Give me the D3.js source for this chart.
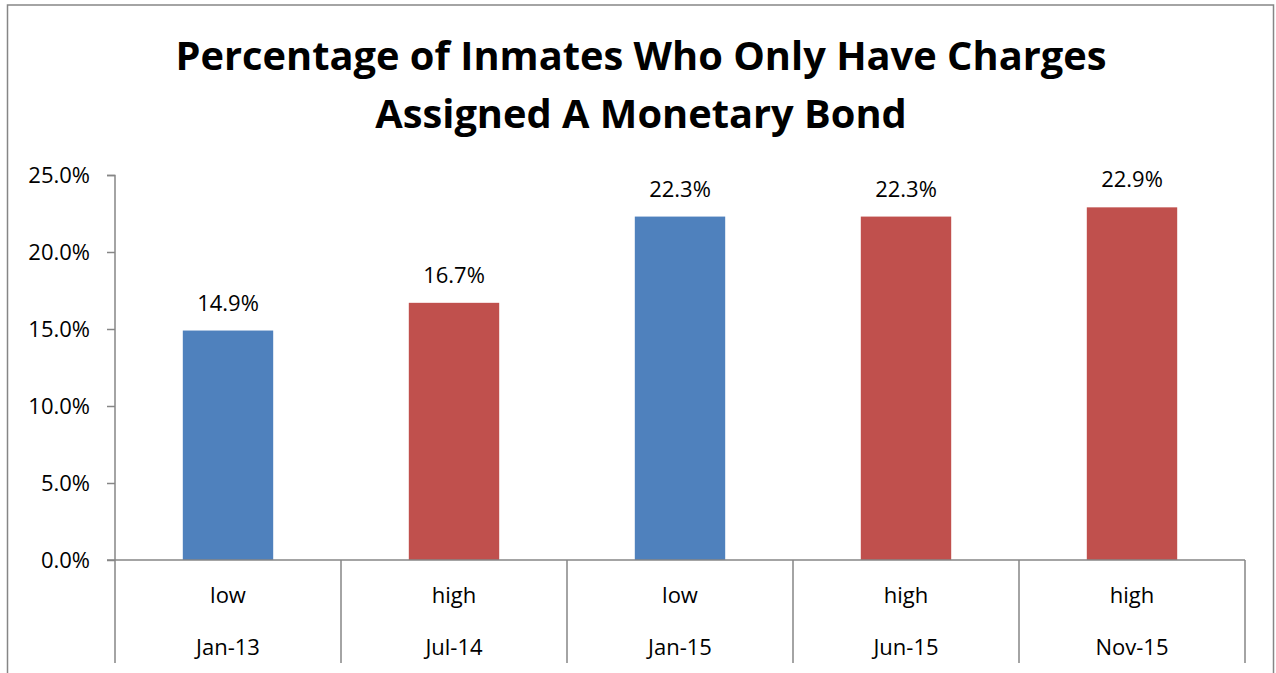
<!DOCTYPE html>
<html>
<head>
<meta charset="utf-8">
<script src="https://cdn.jsdelivr.net/npm/d3@7"></script>
<style>
  body { margin: 0; background: #fff; }
  svg { display: block; font-family: "Open Sans", sans-serif; }
</style>
</head>
<body>
<svg id="chart"></svg>
<script>
// chart data
const dates = ["Jan-13", "Jul-14", "Jan-15", "Jun-15", "Nov-15"];
const levels = ["low", "high", "low", "high", "high"];
const values = [14.9, 16.7, 22.3, 22.3, 22.9];
const yTicks = [0, 5, 10, 15, 20, 25];
const titleLines = ["Percentage of Inmates Who Only Have Charges", "Assigned A Monetary Bond"];

const width = 1276, height = 673;
const margin = {top: 175, right: 31, bottom: 113, left: 115};
const innerW = width - margin.left - margin.right;
const innerH = height - margin.top - margin.bottom;

const colors = {low: "#4F81BD", high: "#C0504D"};
const gray = "#868686";

const svg = d3.select("#chart")
    .attr("width", width)
    .attr("height", height);

// outer frame
svg.append("rect")
    .attr("x", 7.5).attr("y", 5)
    .attr("width", 1266).attr("height", 700)
    .attr("fill", "none")
    .attr("stroke", gray)
    .attr("stroke-width", 1.5);

// title
svg.append("g")
    .selectAll("text")
    .data(titleLines)
    .join("text")
    .attr("x", 641)
    .attr("y", (d, i) => 70 + i * 58)
    .attr("text-anchor", "middle")
    .attr("font-size", "39.8px")
    .attr("font-weight", "bold")
    .attr("fill", "#000")
    .text(d => d);

const g = svg.append("g")
    .attr("transform", `translate(${margin.left}, ${margin.top})`);

const idx = d3.range(dates.length);

const x = d3.scaleBand()
    .domain(idx)
    .range([0, innerW])
    .paddingInner(0.6)
    .paddingOuter(0.3);

const step = innerW / dates.length;

const y = d3.scaleLinear()
    .domain([0, 25])
    .range([innerH, 0]);

// y axis
const yAxis = g.append("g")
    .call(d3.axisLeft(y)
        .tickValues(yTicks)
        .tickSize(8)
        .tickPadding(17)
        .tickFormat(d => d.toFixed(1) + "%"));
yAxis.selectAll("path, line").attr("stroke", gray).attr("stroke-width", 1.5);
yAxis.select(".domain").attr("d", `M-8,0.5H0V${innerH}`);
yAxis.selectAll("text")
    .attr("font-size", "22px")
    .attr("font-family", "Open Sans, sans-serif")
    .attr("fill", "#000");

// bars
g.append("g")
    .selectAll("rect")
    .data(idx)
    .join("rect")
    .attr("x", i => x(i))
    .attr("y", i => y(values[i]))
    .attr("width", x.bandwidth())
    .attr("height", i => innerH - y(values[i]))
    .attr("fill", i => colors[levels[i]]);

// data labels
g.append("g")
    .selectAll("text")
    .data(idx)
    .join("text")
    .attr("x", i => x(i) + x.bandwidth() / 2)
    .attr("y", i => y(values[i]) - 20)
    .attr("text-anchor", "middle")
    .attr("font-size", "22px")
    .attr("fill", "#000")
    .text(i => values[i].toFixed(1) + "%");

// x axis line
g.append("line")
    .attr("x1", -8).attr("x2", innerW)
    .attr("y1", innerH).attr("y2", innerH)
    .attr("stroke", gray).attr("stroke-width", 1.5);

// category separators
g.append("g")
    .selectAll("line")
    .data(d3.range(dates.length + 1))
    .join("line")
    .attr("x1", i => i * step).attr("x2", i => i * step)
    .attr("y1", innerH).attr("y2", innerH + 103)
    .attr("stroke", gray).attr("stroke-width", 1.5);

// category labels, two rows
const cats = g.append("g")
    .attr("font-size", "22px")
    .attr("text-anchor", "middle")
    .attr("fill", "#000");

cats.selectAll("text.level")
    .data(idx)
    .join("text")
    .attr("class", "level")
    .attr("x", i => x(i) + x.bandwidth() / 2)
    .attr("y", innerH + 35)
    .attr("dy", "0.35em")
    .text(i => levels[i]);

cats.selectAll("text.date")
    .data(idx)
    .join("text")
    .attr("class", "date")
    .attr("x", i => x(i) + x.bandwidth() / 2)
    .attr("y", innerH + 87)
    .attr("dy", "0.35em")
    .text(i => dates[i]);
</script>
</body>
</html>
